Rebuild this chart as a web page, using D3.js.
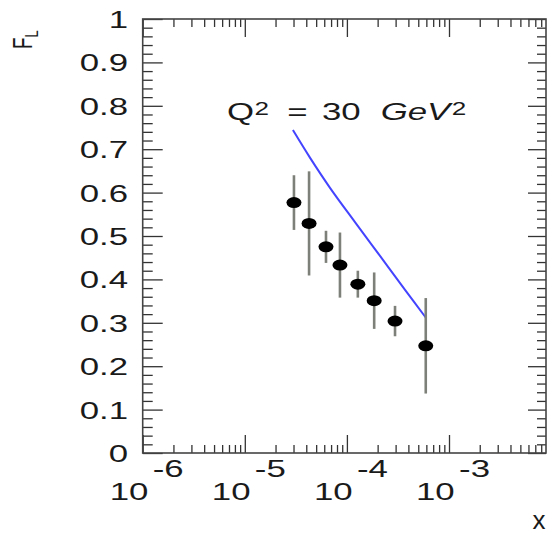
<!DOCTYPE html>
<meta charset="utf-8">
<html lang="en">
<head>
<script src="https://d3js.org/d3.v7.min.js"></script>
<style>
  body { margin: 0; background: #fff; }
  text { font-family: "Liberation Sans", Arial, sans-serif; fill: #1a1a1a; }
</style>
</head>
<body>
<svg></svg>
<script>
// data
var xVals   = [3.03e-5, 4.26e-5, 6.24e-5, 8.55e-5, 1.28e-4, 1.85e-4, 2.96e-4, 5.92e-4];
var fLVals  = [0.577, 0.529, 0.475, 0.433, 0.389, 0.351, 0.304, 0.247];
var fLErrs  = [0.063, 0.120, 0.037, 0.075, 0.031, 0.065, 0.035, 0.110];
var curveX  = [2.96e-5, 4.36e-5, 6.83e-5, 1.20e-4, 2.11e-4, 3.71e-4, 5.96e-4];
var curveY  = [0.744, 0.680, 0.611, 0.532, 0.454, 0.376, 0.311];
var xMajor  = [1e-6, 1e-5, 1e-4, 1e-3];
var xExpLabels = ["-6", "-5", "-4", "-3"];
var yMajor  = [0, 0.1, 0.2, 0.3, 0.4, 0.5, 0.6, 0.7, 0.8, 0.9, 1];
var yLabels = ["0", "0.1", "0.2", "0.3", "0.4", "0.5", "0.6", "0.7", "0.8", "0.9", "1"];

var width = 549, height = 536;
var sx = 1.45; // picture is stretched sideways

var svg = d3.select("svg").attr("width", width).attr("height", height);

var x = d3.scaleLog().domain([1e-6, Math.pow(10, -2.05)]).range([142.7, 546]);
var y = d3.scaleLinear().domain([0, 1]).range([453, 19]);

var xMinor = [];
xMajor.forEach(function(d) {
  for (var k = 2; k <= 9; k++) {
    if (d * k <= x.domain()[1]) xMinor.push(d * k);
  }
});
var yMinor = d3.range(0, 1.0001, 0.02).filter(function(v) {
  return Math.abs(v * 10 - Math.round(v * 10)) > 1e-6;
});

function styleAxis(g) {
  g.select(".domain").remove();
  g.selectAll("line").attr("stroke", "#333").attr("stroke-width", 1.3);
}

// ticks pointing inward on all four sides
svg.append("g").attr("transform", "translate(0,453)")
  .call(d3.axisBottom(x).tickValues(xMajor).tickSize(-18).tickFormat("")).call(styleAxis);
svg.append("g").attr("transform", "translate(0,453)")
  .call(d3.axisBottom(x).tickValues(xMinor).tickSize(-8).tickFormat("")).call(styleAxis);
svg.append("g").attr("transform", "translate(0,19)")
  .call(d3.axisTop(x).tickValues(xMajor).tickSize(-18).tickFormat("")).call(styleAxis);
svg.append("g").attr("transform", "translate(0,19)")
  .call(d3.axisTop(x).tickValues(xMinor).tickSize(-8).tickFormat("")).call(styleAxis);
svg.append("g").attr("transform", "translate(142.7,0)")
  .call(d3.axisLeft(y).tickValues(yMajor).tickSize(-20).tickFormat("")).call(styleAxis);
svg.append("g").attr("transform", "translate(142.7,0)")
  .call(d3.axisLeft(y).tickValues(yMinor).tickSize(-10).tickFormat("")).call(styleAxis);
svg.append("g").attr("transform", "translate(546,0)")
  .call(d3.axisRight(y).tickValues(yMajor).tickSize(-18).tickFormat("")).call(styleAxis);
svg.append("g").attr("transform", "translate(546,0)")
  .call(d3.axisRight(y).tickValues(yMinor).tickSize(-9).tickFormat("")).call(styleAxis);

// frame
svg.append("rect")
  .attr("x", x.range()[0]).attr("y", y.range()[1])
  .attr("width", x.range()[1] - x.range()[0])
  .attr("height", y.range()[0] - y.range()[1])
  .attr("fill", "none").attr("stroke", "#444").attr("stroke-width", 1.6);

// y labels
svg.selectAll("text.ylab").data(yMajor).enter().append("text")
  .attr("class", "ylab")
  .attr("transform", function(d) { return "translate(128," + (y(d) + 9) + ") scale(" + sx + ",1)"; })
  .attr("text-anchor", "end")
  .attr("font-size", 24)
  .text(function(d, i) { return yLabels[i]; });

// x labels, ROOT style 10 with exponent up to the right
var xl = svg.selectAll("text.xlab").data(xMajor).enter().append("text")
  .attr("class", "xlab")
  .attr("transform", function(d) { return "translate(" + (x(d) + 4) + ",500) scale(" + sx + ",1)"; })
  .attr("text-anchor", "middle")
  .attr("font-size", 24);
xl.append("tspan").text("10");
xl.append("tspan").attr("dx", 3).attr("dy", -23).text(function(d, i) { return xExpLabels[i]; });

// axis titles
svg.append("text")
  .attr("x", 539).attr("y", 529)
  .attr("text-anchor", "middle").attr("font-size", 26).text("x");

var yt = svg.append("text")
  .attr("transform", "translate(32,49) scale(" + sx + ",1) rotate(-90)")
  .attr("font-size", 19);
yt.append("tspan").text("F");
yt.append("tspan").attr("font-size", 13).attr("dy", 4).text("L");

// model curve
var line = d3.line()
  .x(function(d, i) { return x(curveX[i]); })
  .y(function(d) { return y(d); })
  .curve(d3.curveCatmullRom);
svg.append("path").datum(curveY)
  .attr("d", line)
  .attr("fill", "none").attr("stroke", "#4444ff").attr("stroke-width", 2);

// error bars and points
svg.selectAll("line.err").data(fLVals).enter().append("line")
  .attr("class", "err")
  .attr("x1", function(d, i) { return x(xVals[i]); })
  .attr("x2", function(d, i) { return x(xVals[i]); })
  .attr("y1", function(d, i) { return y(d + fLErrs[i]); })
  .attr("y2", function(d, i) { return y(d - fLErrs[i]); })
  .attr("stroke", "#7d8078").attr("stroke-width", 2.6);

svg.selectAll("ellipse.pt").data(fLVals).enter().append("ellipse")
  .attr("class", "pt")
  .attr("cx", function(d, i) { return x(xVals[i]); })
  .attr("cy", function(d) { return y(d); })
  .attr("rx", 7.5).attr("ry", 5.5)
  .attr("fill", "#000");

// Q2 label, pieces placed as in the picture
var q = svg.append("text")
  .attr("transform", "translate(227,120) scale(" + sx + ",1)")
  .attr("font-size", 24).attr("fill", "#1a1a2a");
q.append("tspan").attr("x", 0).text("Q");
q.append("tspan").attr("x", 19).attr("y", -5).attr("font-size", 18).text("2");
q.append("tspan").attr("x", 41.5).attr("y", 0).text("=");
q.append("tspan").attr("x", 65.5).text("30");
q.append("tspan").attr("x", 106).attr("font-style", "italic").text("GeV");
q.append("tspan").attr("x", 155).attr("y", -5).attr("font-size", 18).text("2");
</script>
</body>
</html>
